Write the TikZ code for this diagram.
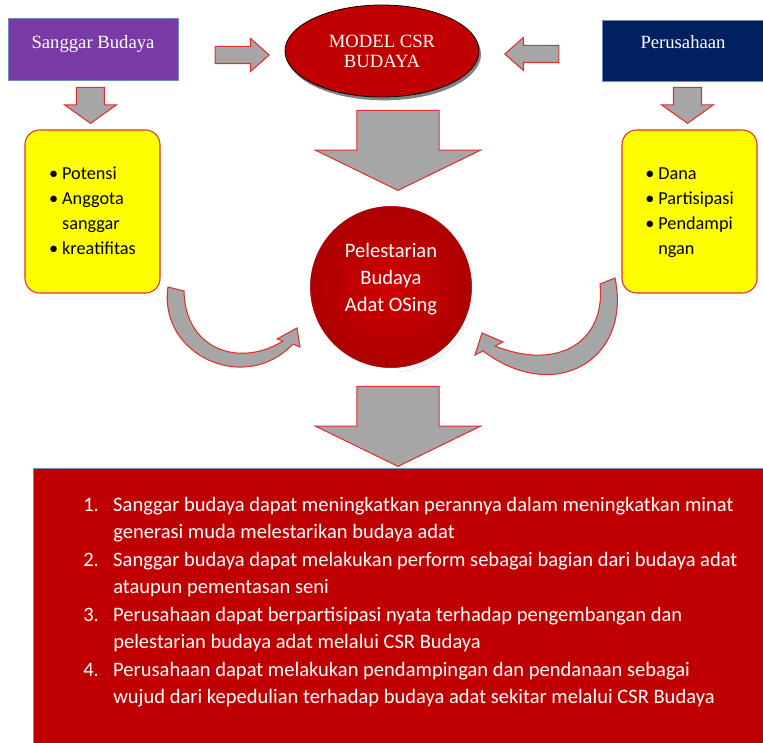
\documentclass[tikz,border=0pt]{standalone}
\usepackage{fontspec}
\setmainfont{Carlito}
\newfontfamily\serifjudul{Liberation Serif}
\usetikzlibrary{shapes.geometric,shapes.arrows,shadows,positioning}

\definecolor{ungu}{RGB}{122,58,166}
\definecolor{navy}{RGB}{0,32,96}
\definecolor{merah}{RGB}{192,0,0}
\definecolor{merahterang}{RGB}{208,0,0}
\definecolor{merahgelap}{RGB}{172,0,0}
\definecolor{abu}{RGB}{166,166,166}
\definecolor{garis}{RGB}{222,48,48}
\definecolor{kuning}{RGB}{255,255,0}
\definecolor{tepi}{RGB}{112,140,190}

\begin{document}
\begin{tikzpicture}[x=0.75pt, y=-0.75pt,
    judulbox/.style={rectangle, draw=tepi, line width=0.5pt, inner sep=0pt},
    judulfont/.style={text=white, font=\serifjudul\fontsize{14pt}{15pt}\selectfont},
    kuningbox/.style={rectangle, rounded corners=11pt, draw=garis, line width=0.8pt,
            fill=kuning, minimum width=101.25pt, minimum height=122.25pt, inner sep=0pt,
            font=\fontsize{13.7pt}{18.75pt}\selectfont},
    panah/.style={single arrow, draw=garis, line width=0.8pt, fill=abu, inner xsep=0pt},
    panahkecil/.style={panah, rotate=-90, minimum height=27pt, minimum width=38.25pt,
            inner ysep=10.1pt, single arrow head extend=9pt, single arrow tip angle=109},
    panahsamping/.style={panah, minimum height=40.5pt, minimum width=24pt,
            inner ysep=6pt, single arrow head extend=6pt, single arrow tip angle=83},
    panahbesar/.style={panah, rotate=-90, minimum height=60pt, minimum width=123pt,
            inner ysep=30.4pt, single arrow head extend=31.1pt, single arrow tip angle=128},
    lengkung/.style={draw=garis, line width=0.8pt, fill=abu},
  ]
  \useasboundingbox (0,0) rectangle (763,742);

  % kotak atas
  \node[judulbox, fill=ungu, minimum width=127.5pt, minimum height=46.5pt,
        label={[judulfont, yshift=3.9pt]center:Sanggar Budaya}] (sanggar) at (93,49) {};
  \node[judulbox, fill=navy, minimum width=121.5pt, minimum height=45.75pt,
        label={[judulfont, yshift=6.4pt]center:Perusahaan}] (perusahaan) at (683,50.5) {};
  \node[ellipse, fill=merah, draw=black, line width=0.6pt, minimum width=145.5pt,
        minimum height=69pt, inner sep=0pt, align=center, judulfont,
        drop shadow={shadow xshift=1.5pt, shadow yshift=-2.5pt, fill=black!70, opacity=0.7}]
        (model) at (382,51) {MODEL CSR\\BUDAYA};

  % panah blok
  \node[panahsamping, anchor=tip] (kekanan) at (270,55) {};
  \node[panahsamping, rotate=180, anchor=tip] (kekiri) at (504,54) {};
  \node[panahkecil, anchor=tip] (turunkiri) at (90.5,124) {};
  \node[panahkecil, anchor=tip] (turunkanan) at (687.5,124) {};
  \node[panahbesar, anchor=tip] (turunmodel) at (398,191) {};

  % kotak kuning
  \node[kuningbox] (potensi) at (92.5,211.5) {%
    \begin{tabular}{@{}p{9.75pt}@{}l@{}}
      \textbullet & Potensi\\
      \textbullet & Anggota\\
                  & sanggar\\
      \textbullet & kreatifitas
    \end{tabular}};
  \node[kuningbox] (dana) at (689.5,211.5) {%
    \begin{tabular}{@{}p{9.75pt}@{}l@{}}
      \textbullet & Dana\\
      \textbullet & Partisipasi\\
      \textbullet & Pendampi\\
                  & ngan
    \end{tabular}};

  % lingkaran tengah
  \node[circle, minimum size=124.5pt, inner sep=0pt, draw=white, line width=3pt,
        inner color=merahterang, outer color=merahgelap,
        drop shadow={shadow xshift=1pt, shadow yshift=-1.5pt, fill=black, opacity=0.25},
        label={[text=white, align=center, yshift=6pt,
                font=\fontsize{15.4pt}{20pt}\selectfont]center:Pelestarian\\Budaya\\Adat OSing}]
        (lestari) at (391,287) {};

  % panah lengkung
  \draw[lengkung] (168,287) .. controls (158,355) and (245,395) .. (293,344)
        -- (300,347) -- (297,328) -- (277,339) -- (283,341)
        .. controls (240,368) and (185,350) .. (184,291) -- cycle;
  \draw[lengkung] (615,278) .. controls (632,360) and (555,405) .. (483,351)
        -- (475,355) -- (482,333) -- (503,342) -- (495,346)
        .. controls (560,372) and (606,340) .. (600,284) -- cycle;

  \node[panahbesar, anchor=tip] (turunhasil) at (398,467) {};

  % kotak hasil
  \node[rectangle, fill=merah, draw=tepi, line width=0.5pt, anchor=north west,
        minimum width=560pt, minimum height=220pt] (hasil) at (33,468) {};
  \node[anchor=north west, inner sep=0pt, text=white,
        font=\fontsize{15.4pt}{20.6pt}\selectfont] (daftar) at (83,492) {%
    \begin{tabular}{@{}p{22.5pt}@{}l@{}}
      1. & Sanggar budaya dapat meningkatkan perannya dalam meningkatkan minat\\
         & generasi muda melestarikan budaya adat\\
      2. & Sanggar budaya dapat melakukan perform sebagai bagian dari budaya adat\\
         & ataupun pementasan seni\\
      3. & Perusahaan dapat berpartisipasi nyata terhadap pengembangan dan\\
         & pelestarian budaya adat melalui CSR Budaya\\
      4. & Perusahaan dapat melakukan pendampingan dan pendanaan sebagai\\
         & wujud dari kepedulian terhadap budaya adat sekitar melalui CSR Budaya
    \end{tabular}};
\end{tikzpicture}
\end{document}
